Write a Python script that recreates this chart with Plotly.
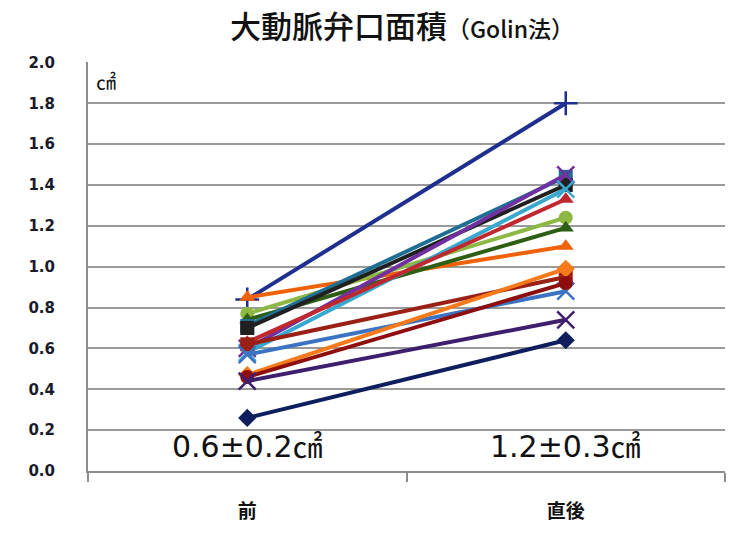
import plotly.graph_objects as go

categories = ["前", "直後"]
y_tick_values = [0.0, 0.2, 0.4, 0.6, 0.8, 1.0, 1.2, 1.4, 1.6, 1.8, 2.0]

before_values = [0.84, 0.85, 0.77, 0.74, 0.71, 0.70, 0.60, 0.58, 0.63, 0.62, 0.57, 0.47, 0.46, 0.44, 0.26]
after_values = [1.80, 1.10, 1.24, 1.19, 1.44, 1.40, 1.45, 1.38, 1.33, 0.95, 0.88, 0.99, 0.92, 0.74, 0.64]
series_colors = ["#1F2F8F", "#F0620A", "#8DB843", "#2E5E14", "#1F6F95", "#202020",
                 "#7030A0", "#38A8CF", "#C02830", "#9A1F14", "#3B73C4", "#F67A1C",
                 "#8E0E0E", "#3E1F6E", "#0E1E5E"]
series_symbols = ["cross-thin", "triangle-up", "circle", "triangle-up", "square", "square",
                  "x-thin", "x-thin", "triangle-up", "square", "x-thin", "diamond",
                  "circle", "x-thin", "diamond"]
summary_labels = ["0.6±0.2㎠", "1.2±0.3㎠"]
summary_y = [0.12, 0.12]

fig = go.Figure()
for b, a, c, s in zip(before_values, after_values, series_colors, series_symbols):
    thin = s.endswith("-thin")
    fig.add_trace(go.Scatter(
        x=categories, y=[b, a], mode="lines+markers",
        line=dict(color=c, width=4),
        marker=dict(symbol=s, size=17 if thin else 14, color=c,
                    line=dict(color=c, width=2.5 if thin else 0)),
        showlegend=False,
    ))

for cat, txt, yy in zip(categories, summary_labels, summary_y):
    fig.add_annotation(x=cat, y=yy, xref="x", yref="y", text=txt, showarrow=False,
                       font=dict(family="DejaVu Sans, Noto Sans CJK JP", size=30, color="#111111"))

fig.add_annotation(x=0, y=1.0, xref="paper", yref="paper", xanchor="left", yanchor="top",
                   xshift=6, yshift=-3, text="㎠", showarrow=False,
                   font=dict(family="Noto Sans CJK JP", size=20, color="#111111"))

fig.update_layout(
    width=729, height=533,
    margin=dict(l=88, r=4, t=62, b=62),
    paper_bgcolor="white", plot_bgcolor="white",
    title=dict(
        text="大動脈弁口面積<span style='font-size:23px'>（Golin法）</span>",
        x=402 / 729, xref="container", xanchor="center",
        y=1 - 27 / 533, yref="container", yanchor="middle",
        font=dict(family="Noto Sans CJK JP", size=31, color="#111111", weight=500),
    ),
    xaxis=dict(
        type="category", range=[-0.5, 1.5], showgrid=False,
        showline=True, linecolor="#8C8C8C", linewidth=2,
        ticks="outside", tickson="boundaries", ticklen=9, tickwidth=2, tickcolor="#8C8C8C",
        tickfont=dict(family="Noto Sans CJK JP", size=19, color="#111111", weight="bold"),
        ticklabelstandoff=22,
    ),
    yaxis=dict(
        range=[0, 2.002], tickvals=y_tick_values, tickformat=".1f",
        showgrid=True, gridcolor="#9A9A9A", gridwidth=2,
        showline=True, linecolor="#8C8C8C", linewidth=2, zeroline=False,
        ticks="", ticklabelstandoff=28,
        tickfont=dict(family="DejaVu Sans", size=15, color="#1A1A2A", weight="bold"),
    ),
)

fig.write_html("out.html")
